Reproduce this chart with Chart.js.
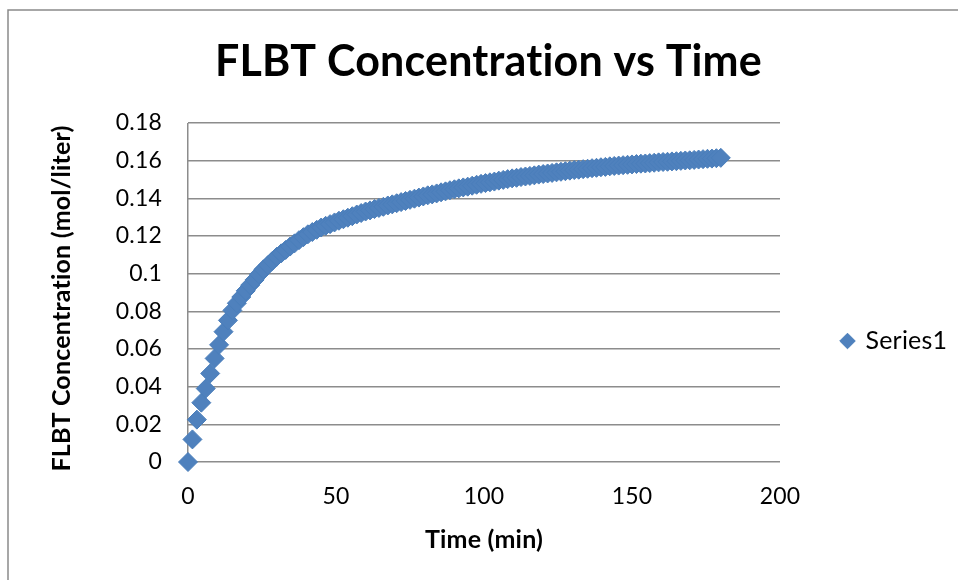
<!DOCTYPE html>
<html>
<head>
<meta charset="utf-8">
<script src="https://cdn.jsdelivr.net/npm/chart.js@4.4.0/dist/chart.umd.min.js"></script>
<style>
html,body{margin:0;padding:0;background:#ffffff;overflow:hidden;}
canvas{display:block;}
</style>
</head>
<body>
<canvas id="c" width="958" height="580"></canvas>
<script>
// ---- data ----
const chartTitle = 'FLBT Concentration vs Time';
const xAxisTitle = 'Time (min)';
const yAxisTitle = 'FLBT Concentration (mol/liter)';
const seriesName = 'Series1';

const timeMin = [
  0, 1.5, 3, 4.5, 6, 7.5, 9, 10.5, 12, 13.5,
  15, 16.5, 18, 19.5, 21, 22.5, 24, 25.5, 27, 28.5,
  30, 31.5, 33, 34.5, 36, 37.5, 39, 40.5, 42, 43.5,
  45, 46.5, 48, 49.5, 51, 52.5, 54, 55.5, 57, 58.5,
  60, 61.5, 63, 64.5, 66, 67.5, 69, 70.5, 72, 73.5,
  75, 76.5, 78, 79.5, 81, 82.5, 84, 85.5, 87, 88.5,
  90, 91.5, 93, 94.5, 96, 97.5, 99, 100.5, 102, 103.5,
  105, 106.5, 108, 109.5, 111, 112.5, 114, 115.5, 117, 118.5,
  120, 121.5, 123, 124.5, 126, 127.5, 129, 130.5, 132, 133.5,
  135, 136.5, 138, 139.5, 141, 142.5, 144, 145.5, 147, 148.5,
  150, 151.5, 153, 154.5, 156, 157.5, 159, 160.5, 162, 163.5,
  165, 166.5, 168, 169.5, 171, 172.5, 174, 175.5, 177, 178.5,
  180
];

const concentration = [
  0.0000, 0.0120, 0.0225, 0.0315, 0.0390, 0.0470, 0.0550, 0.0622, 0.0692, 0.0752,
  0.0805, 0.0843, 0.0876, 0.0909, 0.0939, 0.0967, 0.0996, 0.1023, 0.1045, 0.1068,
  0.1090, 0.1108, 0.1126, 0.1144, 0.1161, 0.1178, 0.1194, 0.1209, 0.1221, 0.1233,
  0.1245, 0.1254, 0.1263, 0.1272, 0.1281, 0.1289, 0.1297, 0.1305, 0.1314, 0.1322,
  0.1330, 0.1336, 0.1343, 0.1349, 0.1355, 0.1362, 0.1368, 0.1374, 0.1380, 0.1386,
  0.1392, 0.1398, 0.1404, 0.1410, 0.1416, 0.1421, 0.1426, 0.1432, 0.1437, 0.1443,
  0.1448, 0.1453, 0.1458, 0.1462, 0.1467, 0.1472, 0.1477, 0.1481, 0.1485, 0.1489,
  0.1494, 0.1498, 0.1502, 0.1506, 0.1509, 0.1513, 0.1516, 0.1519, 0.1522, 0.1526,
  0.1529, 0.1532, 0.1535, 0.1538, 0.1541, 0.1544, 0.1547, 0.1550, 0.1552, 0.1555,
  0.1557, 0.1560, 0.1562, 0.1565, 0.1567, 0.1570, 0.1572, 0.1574, 0.1576, 0.1578,
  0.1580, 0.1582, 0.1584, 0.1585, 0.1587, 0.1589, 0.1591, 0.1593, 0.1594, 0.1596,
  0.1597, 0.1599, 0.1601, 0.1602, 0.1604, 0.1606, 0.1608, 0.1610, 0.1611, 0.1613,
  0.1615
];

const xTickLabels = ['0', '50', '100', '150', '200'];
const yTickLabels = ['0', '0.02', '0.04', '0.06', '0.08', '0.1', '0.12', '0.14', '0.16', '0.18'];

// ---- chart ----
const points = timeMin.map((t, i) => ({x: t, y: concentration[i]}));

const FONT = 'Lato';
const gridGray = '#8c8c8c';

const excelLayout = {
  id: 'excelLayout',
  afterLayout(chart) {
    const lg = chart.legend;
    if (lg) {
      const P = lg.options.labels.padding;
      const h = lg.height;
      lg.left = 842 - P;
      lg.right = chart.width;
      lg.top = 341 - h / 2;
      lg.bottom = 341 + h / 2;
    }
    const t = chart.titleBlock;
    if (t) {
      const shift = 488.5 - (t.left + t.right) / 2;
      t.left += shift;
      t.right += shift;
    }
    const ys = chart.scales.y;
    if (ys) {
      ys.top += 6;
      ys.bottom += 6;
    }
  },
  beforeDraw(chart) {
    const ctx = chart.ctx;
    try { ctx.letterSpacing = '0.2px'; } catch (e) {}
    ctx.save();
    ctx.fillStyle = '#ffffff';
    ctx.fillRect(0, 0, chart.width, chart.height);
    ctx.strokeStyle = '#8a8a8a';
    ctx.lineWidth = 1.5;
    ctx.beginPath();
    ctx.moveTo(8, chart.height + 5);
    ctx.lineTo(8, 10);
    ctx.lineTo(chart.width + 5, 10);
    ctx.stroke();
    ctx.restore();
  }
};

new Chart(document.getElementById('c'), {
  type: 'scatter',
  data: {
    datasets: [{
      label: seriesName,
      data: points,
      pointStyle: 'rectRot',
      pointRadius: 9.5,
      pointHoverRadius: 9.5,
      backgroundColor: '#4F81BD',
      borderColor: '#4A7EBB',
      borderWidth: 1,
      showLine: false,
      clip: false
    }]
  },
  options: {
    responsive: false,
    animation: false,
    devicePixelRatio: 1,
    events: [],
    layout: {padding: {top: 0, left: 0, right: 0, bottom: 0}},
    plugins: {
      title: {
        display: true,
        text: chartTitle,
        color: '#000000',
        font: {family: FONT, size: 43, weight: 'bold'},
        padding: {top: 36.5, bottom: 34.9}
      },
      legend: {
        display: true,
        position: 'right',
        maxWidth: 178,
        labels: {
          usePointStyle: true,
          boxWidth: 11,
          boxHeight: 11,
          padding: 80,
          color: '#000000',
          font: {family: FONT, size: 25}
        }
      },
      tooltip: {enabled: false}
    },
    scales: {
      x: {
        type: 'linear',
        min: 0,
        max: 200,
        afterFit(scale) { scale.height = 118; },
        grid: {
          display: true,
          drawTicks: false,
          lineWidth: 1.5,
          color: (ctx) => (ctx.tick && ctx.tick.value === 0) ? gridGray : 'rgba(0,0,0,0)'
        },
        border: {display: false},
        ticks: {
          stepSize: 50,
          padding: 21,
          color: '#000000',
          font: {family: FONT, size: 23},
          maxRotation: 0,
          callback: (v, i) => xTickLabels[i]
        },
        title: {
          display: true,
          text: xAxisTitle,
          color: '#000000',
          font: {family: FONT, size: 25, weight: 'bold'},
          padding: {top: 0, bottom: 25}
        }
      },
      y: {
        type: 'linear',
        min: 0,
        max: 0.18,
        afterFit(scale) { scale.width = 188; },
        grid: {display: true, drawTicks: false, color: gridGray, lineWidth: 1.5},
        border: {display: false},
        ticks: {
          stepSize: 0.02,
          padding: 26,
          color: '#000000',
          font: {family: FONT, size: 23},
          callback: (v, i) => yTickLabels[i]
        },
        title: {
          display: true,
          text: yAxisTitle,
          color: '#000000',
          font: {family: FONT, size: 25, weight: 'bold'},
          padding: {top: 47, bottom: 0}
        }
      }
    }
  },
  plugins: [excelLayout]
});
</script>
</body>
</html>
